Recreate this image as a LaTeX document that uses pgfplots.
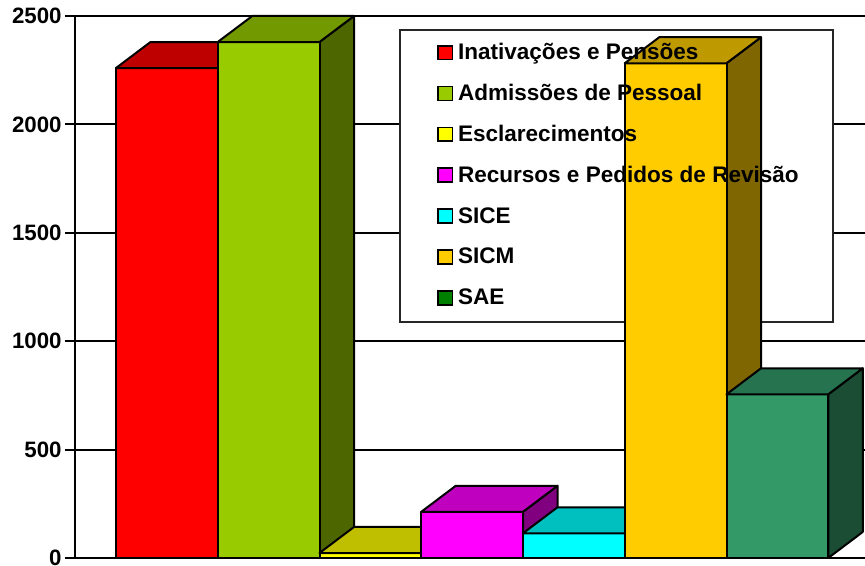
\documentclass[border=0pt]{standalone}
\usepackage{pgfplots}
\usepackage{fontspec}
\setmainfont{Liberation Sans}
\pgfplotsset{compat=1.18}
\definecolor{cRed}{HTML}{FF0000}\definecolor{cRedT}{HTML}{BF0000}\definecolor{cRedS}{HTML}{800000}
\definecolor{cGrn}{HTML}{99CC00}\definecolor{cGrnT}{HTML}{739900}\definecolor{cGrnS}{HTML}{4D6600}
\definecolor{cYel}{HTML}{FFFF00}\definecolor{cYelT}{HTML}{BFBF00}\definecolor{cYelS}{HTML}{808000}
\definecolor{cMag}{HTML}{FF00FF}\definecolor{cMagT}{HTML}{BF00BF}\definecolor{cMagS}{HTML}{800080}
\definecolor{cCya}{HTML}{00FFFF}\definecolor{cCyaT}{HTML}{00BFBF}\definecolor{cCyaS}{HTML}{008080}
\definecolor{cGol}{HTML}{FFCC00}\definecolor{cGolT}{HTML}{BF9900}\definecolor{cGolS}{HTML}{806600}
\definecolor{cSae}{HTML}{339966}\definecolor{cSaeT}{HTML}{267350}\definecolor{cSaeS}{HTML}{1A4D33}
\definecolor{cLeg}{HTML}{008000}
\pgfplotsset{face/.style={draw=black,line width=1.5pt,line join=round,mark=none,forget plot}}
\begin{document}
\begin{tikzpicture}
\path[use as bounding box] (0,0) rectangle (648.75pt,424.5pt);
\begin{axis}[
  at={(56.25pt,6pt)},anchor=south west,
  scale only axis,width=592.5pt,height=406.5pt,
  xmin=75,xmax=865,ymin=0,ymax=2500,
  clip=false,
  axis x line=bottom,axis y line=left,
  axis line style={-,line width=1.8pt,black},
  xtick=\empty,
  ytick={0,500,1000,1500,2000,2500},
  ymajorgrids,
  grid style={black,line width=1.4pt},
  tick align=outside,
  major tick length=7.5pt,
  tick style={black,line width=1.4pt},
  y tick label style={font=\fontsize{16.7}{18}\selectfont\bfseries,/pgf/number format/assume math mode=true,/pgf/number format/1000 sep={},xshift=1pt,inner ysep=0pt},
  legend image code/.code={\draw[#1] (0.6pt,-3.7pt) rectangle (11.4pt,6.7pt);},
  legend cell align=left,
  legend style={at={(axis cs:437,2375)},anchor=north west,draw=none,fill=none,
    inner sep=0pt,row sep=13.75pt,
    font=\fontsize{16.9}{18}\selectfont\bfseries,
    nodes={inner ysep=1.2pt,inner xsep=3.5pt,text height=11pt,text depth=3.5pt}},
]
% Inativações e Pensões
\addplot[face,fill=cRed] coordinates {(116,0)(116,2260)(217.75,2260)(217.75,0)} --cycle;
\addplot[face,fill=cRedT] coordinates {(116,2260)(150.5,2380)(252.25,2380)(217.75,2260)} --cycle;
% Admissões de Pessoal
\addplot[face,fill=cGrnS] coordinates {(319.5,0)(354,120)(354,2500)(319.5,2380)} --cycle;
\addplot[face,fill=cGrn] coordinates {(217.75,0)(217.75,2380)(319.5,2380)(319.5,0)} --cycle;
\addplot[face,fill=cGrnT] coordinates {(217.75,2380)(252.25,2500)(354,2500)(319.5,2380)} --cycle;
% Esclarecimentos
\addplot[face,fill=cYel] coordinates {(319.5,0)(319.5,23)(421.25,23)(421.25,0)} --cycle;
\addplot[face,fill=cYelT] coordinates {(319.5,23)(354,143)(455.75,143)(421.25,23)} --cycle;
% Recursos e Pedidos de Revisão
\addplot[face,fill=cMagS] coordinates {(523,0)(557.5,120)(557.5,333)(523,213)} --cycle;
\addplot[face,fill=cMag] coordinates {(421.25,0)(421.25,213)(523,213)(523,0)} --cycle;
\addplot[face,fill=cMagT] coordinates {(421.25,213)(455.75,333)(557.5,333)(523,213)} --cycle;
% SICE
\addplot[face,fill=cCya] coordinates {(523,0)(523,114)(624.75,114)(624.75,0)} --cycle;
\addplot[face,fill=cCyaT] coordinates {(523,114)(557.5,234)(659.25,234)(624.75,114)} --cycle;
% legend box
\addplot[forget plot,mark=none,draw=black!85,line width=1.4pt,fill=white] coordinates {(400,2435)(833,2435)(833,1089)(400,1089)} --cycle;
% SICM
\addplot[face,fill=cGolS] coordinates {(726.5,0)(761,120)(761,2402)(726.5,2282)} --cycle;
\addplot[face,fill=cGol] coordinates {(624.75,0)(624.75,2282)(726.5,2282)(726.5,0)} --cycle;
\addplot[face,fill=cGolT] coordinates {(624.75,2282)(659.25,2402)(761,2402)(726.5,2282)} --cycle;
% SAE
\addplot[face,fill=cSaeS] coordinates {(828.25,0)(862.75,120)(862.75,875)(828.25,755)} --cycle;
\addplot[face,fill=cSae] coordinates {(726.5,0)(726.5,755)(828.25,755)(828.25,0)} --cycle;
\addplot[face,fill=cSaeT] coordinates {(726.5,755)(761,875)(862.75,875)(828.25,755)} --cycle;
% legend
\addlegendimage{draw=black,line width=1.3pt,fill=cRed}\addlegendentry{Inativações e Pensões}
\addlegendimage{draw=black,line width=1.3pt,fill=cGrn}\addlegendentry{Admissões de Pessoal}
\addlegendimage{draw=black,line width=1.3pt,fill=cYel}\addlegendentry{Esclarecimentos}
\addlegendimage{draw=black,line width=1.3pt,fill=cMag}\addlegendentry{Recursos e Pedidos de Revisão}
\addlegendimage{draw=black,line width=1.3pt,fill=cCya}\addlegendentry{SICE}
\addlegendimage{draw=black,line width=1.3pt,fill=cGol}\addlegendentry{SICM}
\addlegendimage{draw=black,line width=1.3pt,fill=cLeg}\addlegendentry{SAE}
\end{axis}
\end{tikzpicture}
\end{document}
